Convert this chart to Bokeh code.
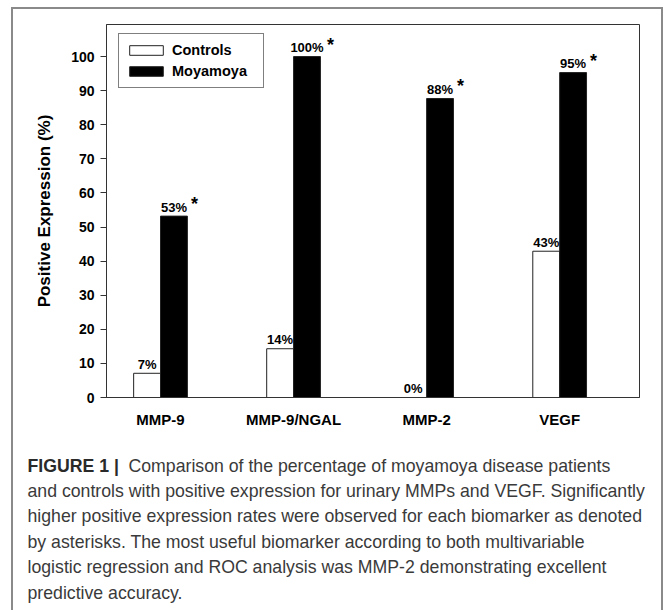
from bokeh.plotting import figure
from bokeh.layouts import column
from bokeh.models import (Range1d, FixedTicker, Legend, LegendItem,
                          ColumnDataSource)
from bokeh.transform import dodge
from bokeh.core.properties import value
from bokeh.embed import file_html
from bokeh.resources import INLINE

# ---- data -------------------------------------------------------------
categories = ["MMP-9", "MMP-9/NGAL", "MMP-2", "VEGF"]
controls = [7.1, 14.3, 0.0, 42.9]
moyamoya = [53.2, 100.0, 87.7, 95.3]
controls_labels = ["7%", "14%", "0%", "43%"]
moyamoya_labels = ["53%", "100%", "88%", "95%"]
significant = [True, True, True, True]
y_ticks = [0, 10, 20, 30, 40, 50, 60, 70, 80, 90, 100]
series_names = ["Controls", "Moyamoya"]
y_title = "Positive Expression (%)"
caption_head = "FIGURE 1 |"
caption_lines = [
    "Comparison of the percentage of moyamoya disease patients",
    "and controls with positive expression for urinary MMPs and VEGF. Significantly",
    "higher positive expression rates were observed for each biomarker as denoted",
    "by asterisks. The most useful biomarker according to both multivariable",
    "logistic regression and ROC analysis was MMP-2 demonstrating excellent",
    "predictive accuracy.",
]

# ---- styling ----------------------------------------------------------
FONT = value("Liberation Sans")
positions = [i + 1 for i in range(len(categories))]
bw = 0.202
W = 667
H1 = 440
H2 = 170

src = ColumnDataSource(dict(
    x=positions,
    controls=controls,
    moyamoya=moyamoya,
    cl=controls_labels,
    ml=moyamoya_labels,
    star=["*" if s else "" for s in significant],
    star_dx=[3 * len(t) + 8 for t in moyamoya_labels],
))

GRAY = "#8a8a8a"
grad = "linear-gradient(%s,%s)" % (GRAY, GRAY)
top_css = {
    "background-color": "white",
    "background-image": ", ".join([grad, grad, grad]),
    "background-size": "2px %dpx, 2px %dpx, 652px 2px" % (H1, H1),
    "background-position": "11px 7px, 661px 7px, 11px 7px",
    "background-repeat": "no-repeat",
}
bottom_css = {
    "background-color": "white",
    "background-image": ", ".join([grad, grad]),
    "background-size": "2px %dpx, 2px %dpx" % (H2, H2),
    "background-position": "11px 0px, 661px 0px",
    "background-repeat": "no-repeat",
}

p = figure(width=W, height=H1, output_backend="svg", toolbar_location=None,
           x_range=Range1d(0.594, 4.60), y_range=Range1d(0, 109.4),
           min_border_left=106, min_border_right=28, min_border_top=24,
           min_border_bottom=H1 - 397, styles=top_css)
p.xgrid.visible = False
p.ygrid.visible = False
p.outline_line_color = "#333333"
p.outline_line_width = 1
p.background_fill_color = "white"
p.border_fill_color = None

rc = p.vbar(x=dodge("x", -bw / 2), width=bw, top="controls", bottom=0,
            source=src, fill_color="white", line_color="#222222", line_width=1)
rm = p.vbar(x=dodge("x", bw / 2), width=bw, top="moyamoya", bottom=0,
            source=src, fill_color="black", line_color="#222222", line_width=1)

p.text(x=dodge("x", -bw / 2), y="controls", text="cl", source=src,
       text_align="center", text_baseline="alphabetic", y_offset=-9,
       text_font=FONT, text_font_style="bold", text_font_size="13px",
       text_color="black")
p.text(x=dodge("x", bw / 2), y="moyamoya", text="ml", source=src,
       text_align="center", text_baseline="alphabetic", y_offset=-9,
       text_font=FONT, text_font_style="bold", text_font_size="13px",
       text_color="black")
p.text(x=dodge("x", bw / 2), y="moyamoya", text="star", source=src,
       x_offset="star_dx", y_offset=-12,
       text_align="left", text_baseline="alphabetic",
       text_font=FONT, text_font_style="bold", text_font_size="18px",
       text_color="black")

# axes
yax = p.yaxis[0]
yax.ticker = FixedTicker(ticks=y_ticks)
yax.major_tick_in = 0
yax.major_tick_out = 6
yax.minor_tick_in = 0
yax.minor_tick_out = 0
yax.major_label_standoff = 6
yax.major_label_text_font = "Liberation Sans"
yax.major_label_text_font_style = "bold"
yax.major_label_text_font_size = "14px"
yax.major_label_text_color = "black"
yax.axis_line_color = "#333333"
yax.major_tick_line_color = "#333333"
yax.axis_label = y_title
yax.axis_label_text_font = "Liberation Sans"
yax.axis_label_text_font_style = "bold"
yax.axis_label_text_font_size = "17px"
yax.axis_label_text_color = "black"
yax.axis_label_standoff = 14

xax = p.xaxis[0]
xax.ticker = FixedTicker(ticks=positions)
xax.major_label_overrides = {pos: cat for pos, cat in zip(positions, categories)}
xax.major_tick_in = 0
xax.major_tick_out = 0
xax.minor_tick_in = 0
xax.minor_tick_out = 0
xax.major_label_standoff = 13
xax.major_label_text_font = "Liberation Sans"
xax.major_label_text_font_style = "bold"
xax.major_label_text_font_size = "15px"
xax.major_label_text_color = "black"
xax.axis_line_color = "#333333"

legend = Legend(items=[LegendItem(label=series_names[0], renderers=[rc]),
                       LegendItem(label=series_names[1], renderers=[rm])],
                location=(12, 309), padding=6, spacing=1, margin=0,
                glyph_width=42, glyph_height=12, label_height=20,
                label_width=85, label_standoff=5,
                label_text_font="Liberation Sans", label_text_font_style="bold",
                label_text_font_size="14.5px", label_text_color="black",
                border_line_color="black", border_line_width=1,
                background_fill_color="white", background_fill_alpha=1)
p.add_layout(legend)

# ---- caption panel ----------------------------------------------------
c = figure(width=W, height=H2, output_backend="svg", toolbar_location=None,
           x_range=Range1d(0, W), y_range=Range1d(H2, 0),
           min_border=0, x_axis_location=None, y_axis_location=None,
           styles=bottom_css)
if "frame_align" in c.properties():
    c.frame_align = False
if "frame_align" in p.properties():
    p.frame_align = False
c.xgrid.visible = False
c.ygrid.visible = False
c.outline_line_color = None
c.background_fill_color = None
c.border_fill_color = None

cap_x = 27
cap_x_first = 128
cap_y0 = 25
cap_dy = 25.4
c.text(x=[cap_x], y=[cap_y0], text=[caption_head], text_baseline="middle",
       text_align="left", text_font=FONT, text_font_style="bold",
       text_font_size="17.7px", text_color="#2a2a2a")
c.text(x=[cap_x_first] + [cap_x] * (len(caption_lines) - 1),
       y=[cap_y0 + i * cap_dy for i in range(len(caption_lines))],
       text=caption_lines, text_baseline="middle", text_align="left",
       text_font=FONT, text_font_size="17.7px", text_color="#3a3a3a")

layout = column(p, c, spacing=0)
open("out.html", "w").write(file_html(layout, INLINE))
